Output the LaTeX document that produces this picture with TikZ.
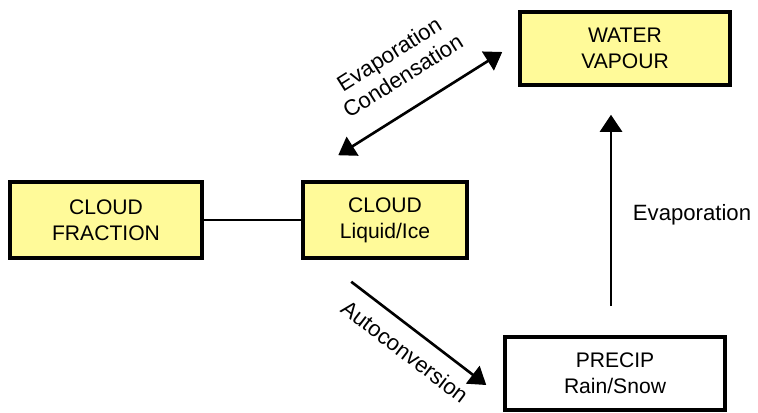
\documentclass[tikz,border=0pt]{standalone}
\usepackage{fontspec}
\setmainfont{Liberation Sans}
\usetikzlibrary{positioning}
\usetikzlibrary{arrows.meta}
\tikzset{
    mybox/.style = {rectangle, draw=black, line width=2pt, align=center, font=\fontsize{12}{14.7}\selectfont},
    myboxy/.style = {mybox, fill=yellow!40},
    edgen/.style = {line width=1.5pt,-{Triangle[length=0.34cm,width=0.44cm]}},
    edged/.style = {line width=1.5pt,{Triangle[length=0.34cm,width=0.44cm]}-{Triangle[length=0.34cm,width=0.44cm]}},
    edgel/.style = {line width=1.5pt}, % plain link
    lbl/.style = {align=center, font=\fontsize{12.6}{14.7}\selectfont}
}

\begin{document}
\begin{tikzpicture}
  \useasboundingbox (0,0) rectangle (15.16,-8.26);

  \node[myboxy, minimum width=3.84cm, minimum height=1.52cm] (frac) at (2.12,-4.40) {CLOUD\\FRACTION};
  \node[myboxy, minimum width=3.28cm, minimum height=1.52cm] (cloud) at (7.70,-4.40) {CLOUD\\Liquid/Ice};
  \node[myboxy, minimum width=4.20cm, minimum height=1.46cm] (vapour) at (12.50,-0.97) {WATER\\VAPOUR};
  \node[mybox, minimum width=4.40cm, minimum height=1.46cm] (precip) at (12.30,-7.47) {PRECIP\\Rain/Snow};

  \draw[edgel] (frac.east) -- (cloud.west);

  \draw[edged] ([shift={(0.74,0.50)}]cloud.north west) -- ([shift={(-0.32,-0.07)}]vapour.west)
    node[midway, sloped, above=0.35cm, lbl] {Evaporation\\Condensation};

  \draw[edgen] ([shift={(1.0,-0.44)}]cloud.south west) -- ([shift={(-0.34,-0.23)}]precip.west)
    node[midway, sloped, below=0.15cm, lbl] {Autoconversion};

  \coordinate (evx) at (12.22,0);
  \draw[edgen, shorten <=0.58cm, shorten >=0.56cm] (precip.north -| evx) -- (vapour.south -| evx);
  \node[lbl] (evap) at (13.84,-4.30) {Evaporation};

\end{tikzpicture}
\end{document}
